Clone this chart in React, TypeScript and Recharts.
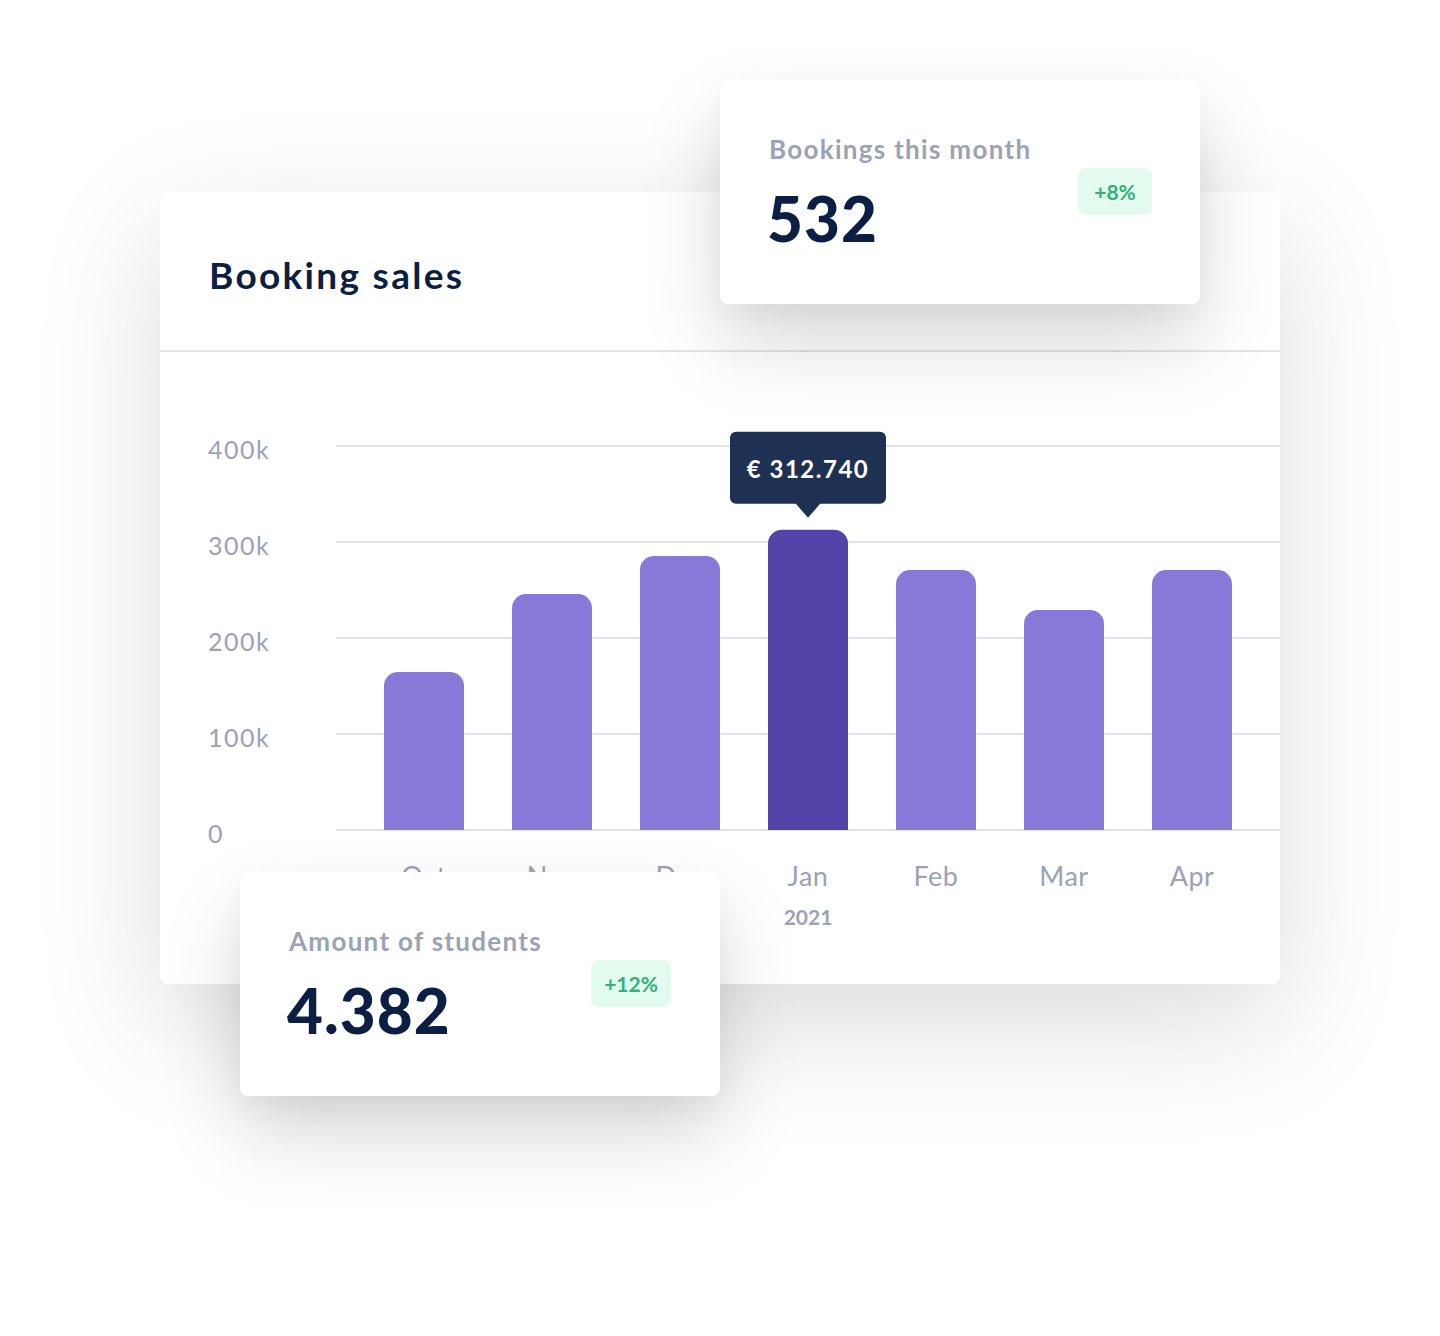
import React from "react";
import { BarChart, Bar, XAxis, YAxis, CartesianGrid, Cell, LabelList } from "recharts";

const months = ["Oct", "Nov", "Dec", "Jan", "Feb", "Mar", "Apr"];
const sales = [164600, 245800, 285400, 312740, 270800, 229200, 270800];
const yTicks = [0, 100000, 200000, 300000, 400000];
const yTickLabels = ["0", "100k", "200k", "300k", "400k"];
const highlightIndex = 3;
const yearLabel = "2021";
const tooltipText = "€ 312.740";

const data = months.map((m, i) => ({ month: m, value: sales[i] }));

const FONT = "Lato, 'Open Sans', sans-serif";
const GRAY = "#9AA3B5";
const NAVY = "#0B1E44";

const YTick = (props: any) => {
  const { x, y, payload } = props;
  const idx = yTicks.indexOf(payload.value);
  return (
    <text x={x - 128} y={y + 3} textAnchor="start" dominantBaseline="central" fill={GRAY} fontSize={25} letterSpacing={1.5} fontFamily={FONT}>
      {yTickLabels[idx]}
    </text>
  );
};

const XTick = (props: any) => {
  const { x, y, payload, index } = props;
  return (
    <g>
      <text x={x} y={y + 56} textAnchor="middle" fill={GRAY} fontSize={27} letterSpacing={0.5} fontFamily={FONT}>
        {payload.value}
      </text>
      {index === highlightIndex && (
        <text x={x} y={y + 95} textAnchor="middle" fill={GRAY} fontSize={21} fontWeight={700} fontFamily={FONT}>
          {yearLabel}
        </text>
      )}
    </g>
  );
};

const TipLabel = (props: any) => {
  const { x, y, width, index } = props;
  if (index !== highlightIndex) return null;
  const cx = x + width / 2;
  const w = 156;
  const bottom = y - 26;
  const top = y - 98;
  return (
    <g>
      <rect x={cx - w / 2} y={top} width={w} height={bottom - top} rx={6} fill="#1F3152" />
      <path d={`M${cx - 13} ${bottom - 1} L${cx} ${y - 12} L${cx + 13} ${bottom - 1} Z`} fill="#1F3152" />
      <text x={cx} y={(top + bottom) / 2 + 1} textAnchor="middle" dominantBaseline="central" fill="#FFFFFF" fontSize={24} fontWeight={700} letterSpacing={1.5} fontFamily={FONT}>
        {tooltipText}
      </text>
    </g>
  );
};

const StatCard = ({ left, top, title, value, badge, badgeLeft, badgeTop, badgeW }: any) => (
  <div
    style={{
      position: "absolute",
      left,
      top,
      width: 480,
      height: 224,
      background: "#fff",
      borderRadius: 8,
      boxShadow: "0 40px 80px rgba(0,0,0,0.15), 0 10px 30px rgba(0,0,0,0.04)",
      zIndex: 3,
      fontFamily: FONT,
    }}
  >
    <div style={{ position: "absolute", left: 49, top: 52, fontSize: 26, fontWeight: 700, color: GRAY, lineHeight: "34px", whiteSpace: "nowrap", letterSpacing: 1.3 }}>
      {title}
    </div>
    <div style={{ position: "absolute", left: 47, top: 102, fontSize: 62, fontWeight: 900, color: NAVY, lineHeight: "72px", whiteSpace: "nowrap", letterSpacing: 1 }}>
      {value}
    </div>
    <div
      style={{
        position: "absolute",
        left: badgeLeft,
        top: badgeTop,
        width: badgeW,
        height: 47,
        borderRadius: 8,
        background: "#E3FAEE",
        color: "#2DB37A",
        fontSize: 21,
        fontWeight: 700,
        display: "flex",
        alignItems: "center",
        justifyContent: "center",
      }}
    >
      {badge}
    </div>
  </div>
);

export default function App() {
  return (
    <div style={{ position: "relative", width: 1440, height: 1336, background: "#fff", overflow: "hidden", fontFamily: FONT }}>
      <style>{`body{margin:0;}`}</style>
      <div
        style={{
          position: "absolute",
          left: 160,
          top: 192,
          width: 1120,
          height: 792,
          background: "#fff",
          borderRadius: 8,
          boxShadow: "0 40px 130px rgba(0,0,0,0.14)",
          zIndex: 1,
        }}
      >
        <div style={{ position: "absolute", left: 49, top: 60, fontSize: 37, fontWeight: 700, color: NAVY, lineHeight: "46px", whiteSpace: "nowrap", letterSpacing: 2.3 }}>
          Booking sales
        </div>
        <div style={{ position: "absolute", left: 0, top: 158, width: 1120, height: 2, background: "#E2E2E7" }} />
        <div style={{ position: "absolute", left: 0, top: 160 }}>
          <BarChart width={1120} height={632} data={data} margin={{ top: 94, right: 0, left: 0, bottom: 54 }} barSize={80}>
            <CartesianGrid vertical={false} stroke="#E3E3E9" strokeWidth={2} />
            <XAxis
              dataKey="month"
              axisLine={false}
              tickLine={false}
              tickSize={0}
              tickMargin={0}
              height={100}
              interval={0}
              padding={{ left: 24, right: 24 }}
              tick={<XTick />}
            />
            <YAxis
              width={176}
              domain={[0, 400000]}
              ticks={yTicks}
              axisLine={false}
              tickLine={false}
              tickSize={0}
              tickMargin={0}
              tick={<YTick />}
            />
            <Bar dataKey="value" radius={[14, 14, 0, 0]} isAnimationActive={false}>
              {data.map((d, i) => (
                <Cell key={d.month} fill={i === highlightIndex ? "#5244A9" : "#8779D7"} />
              ))}
              <LabelList dataKey="value" content={<TipLabel />} />
            </Bar>
          </BarChart>
        </div>
      </div>
      <StatCard left={720} top={80} title="Bookings this month" value="532" badge="+8%" badgeLeft={358} badgeTop={88} badgeW={74} />
      <StatCard left={240} top={872} title="Amount of students" value="4.382" badge="+12%" badgeLeft={351} badgeTop={88} badgeW={80} />
    </div>
  );
}
